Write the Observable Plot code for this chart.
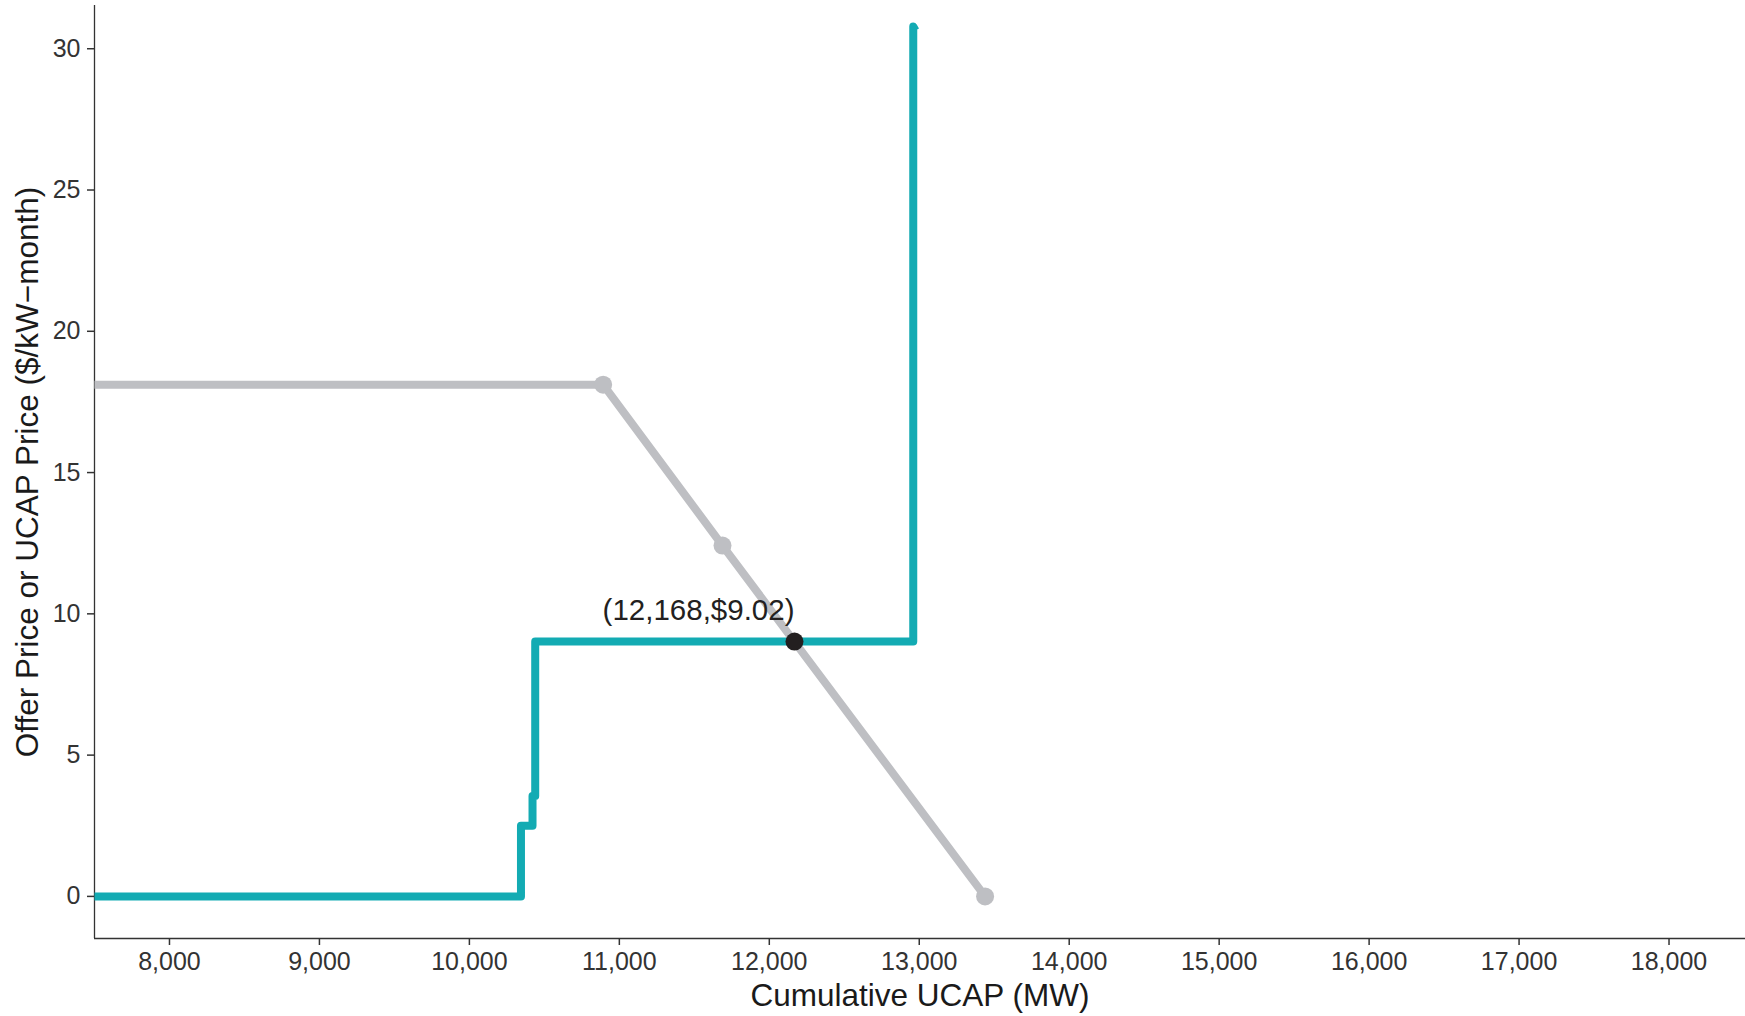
<!DOCTYPE html>
<html><head><meta charset="utf-8">
<script src="https://cdn.jsdelivr.net/npm/d3@7"></script>
<script src="https://cdn.jsdelivr.net/npm/@observablehq/plot@0.6"></script>
<style>
html,body{margin:0;padding:0;background:#fff;}
#chart svg{display:block}
</style></head><body><div id="chart"></div>
<script>
// Supply curve (offers), stepwise
const supplyX = [7500, 10344, 10344, 10421, 10421, 10439, 10439, 12960, 12960, 12975];
const supplyY = [0, 0, 2.5, 2.5, 3.55, 3.55, 9.02, 9.02, 30.79, 30.65];
// Demand curve
const demandX = [7500, 10892, 11688, 13439];
const demandY = [18.11, 18.11, 12.415, 0];
// Demand curve break points (dots)
const demandPtX = [10892, 11688, 13439];
const demandPtY = [18.11, 12.415, 0];
// Clearing point
const clearX = [12168];
const clearY = [9.02];
const clearLabel = ["(12,168,$9.02)"];
// Ticks and titles
const xTicks = [8000, 9000, 10000, 11000, 12000, 13000, 14000, 15000, 16000, 17000, 18000];
const yTicks = [0, 5, 10, 15, 20, 25, 30];
const xTitle = "Cumulative UCAP (MW)";
const yTitle = "Offer Price or UCAP Price ($/kW\u2212month)";

const supply = supplyX.map((x, i) => ({x, y: supplyY[i]}));
const demand = demandX.map((x, i) => ({x, y: demandY[i]}));
const demandPts = demandPtX.map((x, i) => ({x, y: demandPtY[i]}));
const clear = clearX.map((x, i) => ({x, y: clearY[i], label: clearLabel[i]}));

const xMin = 7500, yMin = -1.49;
const TEAL = "#13abb3", GREY = "#bebfc3", AX = "#333333";

const chart = Plot.plot({
  width: 1745, height: 1016,
  marginLeft: 94, marginRight: 0, marginTop: 5, marginBottom: 78,
  style: {fontFamily: "'Liberation Sans', Arial, Helvetica, sans-serif", background: "#fff", color: AX},
  x: {domain: [xMin, 18510]},
  y: {domain: [yMin, 31.53]},
  marks: [
    Plot.axisX({ticks: xTicks, tickFormat: d3.format(","), tickSize: 7, tickPadding: 7, fontSize: 25, label: null, stroke: AX, strokeWidth: 1.5, fill: AX}),
    Plot.axisY({ticks: yTicks, tickSize: 7, tickPadding: 7, fontSize: 25, label: null, stroke: AX, strokeWidth: 1.5, fill: AX}),
    Plot.ruleX([xMin], {stroke: AX, strokeWidth: 1.3}),
    Plot.ruleY([yMin], {stroke: AX, strokeWidth: 1.3}),
    Plot.text([xTitle], {text: d => d, frameAnchor: "bottom", dy: 67, lineAnchor: "bottom", textAnchor: "middle", fontSize: 31.5, fill: "#1a1a1a"}),
    Plot.text([yTitle], {text: d => d, frameAnchor: "left", dx: -79, rotate: -90, lineAnchor: "top", textAnchor: "middle", fontSize: 31.5, fill: "#1a1a1a"}),
    Plot.line(supply, {x: "x", y: "y", stroke: TEAL, strokeWidth: 8, strokeLinejoin: "round", strokeLinecap: "butt"}),
    Plot.line(demand, {x: "x", y: "y", stroke: GREY, strokeWidth: 8, strokeLinejoin: "round", strokeLinecap: "butt"}),
    Plot.dot(demandPts, {x: "x", y: "y", r: 9, fill: GREY, stroke: null}),
    Plot.dot(clear, {x: "x", y: "y", r: 9, fill: "#231f20", stroke: null}),
    Plot.text(clear, {x: "x", y: "y", text: "label", textAnchor: "end", lineAnchor: "bottom", dy: -22, fontSize: 29.5, fill: "#231f20"})
  ]
});
document.getElementById("chart").appendChild(chart);
</script>
</body></html>
